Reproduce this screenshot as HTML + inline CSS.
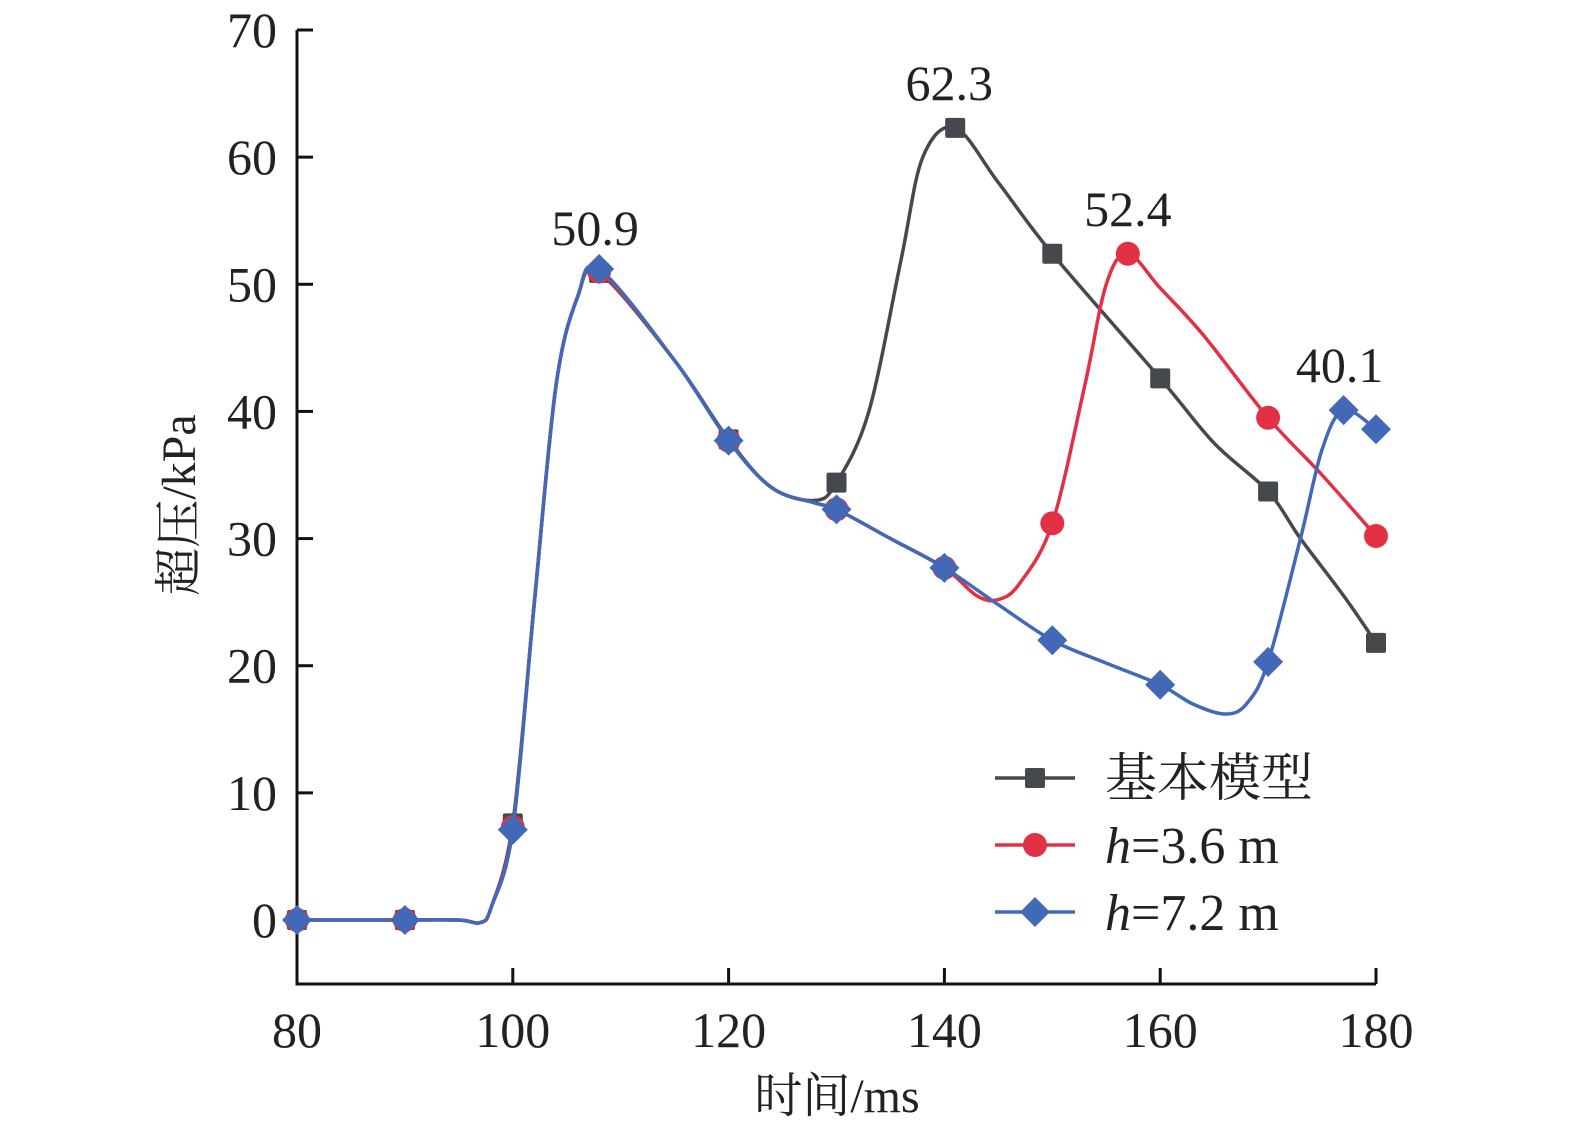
<!DOCTYPE html>
<html><head><meta charset="utf-8"><style>
html,body{margin:0;padding:0;background:#fff;overflow:hidden;width:1575px;height:1135px;}
svg{display:block;font-family:"Liberation Serif","Noto Serif CJK SC",serif;}
</style></head><body>
<svg id="chart" width="1575" height="1135" viewBox="0 0 1575 1135">
<g id="axes"></g>
<g id="series"></g>
<g id="legend"></g>
</svg>
<script>
const xTicks=[80,100,120,140,160,180];
const yTicks=[0,10,20,30,40,50,60,70];
// marker data
const baseX=[80,90,100,108,120,130,141,150,160,170,180];
const baseY=[0,0,7.6,50.9,37.8,34.4,62.3,52.4,42.6,33.7,21.8];
const redX=[80,90,100,108,120,130,140,150,157,170,180];
const redY=[0,0,7.3,51.0,37.7,32.3,27.7,31.2,52.4,39.5,30.2];
const blueX=[80,90,100,108,120,130,140,150,160,170,177,180];
const blueY=[0,0,7.1,51.2,37.7,32.3,27.7,22.0,18.5,20.3,40.1,38.6];
// curve knots
const baseCX=[80,90,95,97,98,100,102,104,106,108,115,120,124,128,130,133,136,138,141,145,150,160,165,170,173,177,180];
const baseCY=[0,0,0,-0.2,1,7.6,25,42,49,50.9,44,37.8,34,33,34.4,40,52,60,62.3,58,52.4,42.6,37.5,33.7,30,25.5,21.8];
const redCX=[80,90,95,97,98,100,102,104,106,108,115,120,124,128,130,135,140,143,145,147,150,153,155,157,160,164,170,175,180];
const redCY=[0,0,0,-0.2,1,7.3,25,42,49,51,44,37.7,34,32.8,32.3,30,27.7,25.5,25.2,26.5,31.2,42,50,52.4,49.7,46,39.5,35,30.2];
const blueCX=[80,90,95,97,98,100,102,104,106,108,115,120,124,128,130,135,140,145,150,155,160,163,166,168,170,173,175,177,180];
const blueCY=[0,0,0,-0.2,1,7.1,25,42,49,51.2,44,37.7,34,32.8,32.3,30,27.7,24.8,22,20.2,18.5,17,16.2,17,20.3,30,37,40.1,38.6];
const labels=[{x:108,y:50.9,t:"50.9",dx:-4},{x:141,y:62.3,t:"62.3",dx:-6},{x:157,y:52.4,t:"52.4",dx:0},{x:177,y:40.1,t:"40.1",dx:-4}];

const NS="http://www.w3.org/2000/svg";
const sx=v=>297+(v-80)*(1376-297)/100;
const sy=v=>920-v*(890/70);
function mk(tag,at,parent){const e=document.createElementNS(NS,tag);for(const k in at)e.setAttribute(k,at[k]);parent.appendChild(e);return e;}
const axes=document.getElementById('axes'),ser=document.getElementById('series'),leg=document.getElementById('legend');

let a=mk('path',{d:`M297,30 V984 H1376`,stroke:'#111',fill:'none','stroke-width':3},axes);


yTicks.forEach(v=>{
 let t=mk('line',{x1:297,x2:313,y1:sy(v),y2:sy(v),stroke:'#111','stroke-width':3},axes);
 
 
 let l=mk('text',{x:277,y:sy(v)+17,'text-anchor':'end','font-size':50,fill:'#222'},axes);l.textContent=v;
 
 
});
xTicks.forEach(v=>{
 let t=mk('line',{x1:sx(v),x2:sx(v),y1:984,y2:968,stroke:'#111','stroke-width':3},axes);
 
 
 let l=mk('text',{x:sx(v),y:1047,'text-anchor':'middle','font-size':50,fill:'#222'},axes);l.textContent=v;
 
 
});
let xt=mk('text',{x:837,y:1112,'text-anchor':'middle','font-size':48,fill:'#222'},axes);xt.textContent="时间/ms";


let yt=mk('text',{x:0,y:0,'text-anchor':'middle','font-size':48,fill:'#222',transform:'translate(195,505) rotate(-90)'},axes);yt.textContent="超压/kPa";



function curve(xs,ys){
 const p=xs.map((x,i)=>[sx(x),sy(ys[i])]);
 let d=`M${p[0][0]},${p[0][1]}`;
 for(let i=0;i<p.length-1;i++){
  const p0=p[i-1]||p[i],p1=p[i],p2=p[i+1],p3=p[i+2]||p2;
  const c1=[p1[0]+(p2[0]-p0[0])/6,p1[1]+(p2[1]-p0[1])/6];
  const c2=[p2[0]-(p3[0]-p1[0])/6,p2[1]-(p3[1]-p1[1])/6];
  d+=` C${c1[0]},${c1[1]} ${c2[0]},${c2[1]} ${p2[0]},${p2[1]}`;
 }
 return d;
}
function marker(type,x,y,col,g){
 let e;
 if(type==='sq') e=mk('rect',{x:x-10,y:y-10,width:20,height:20,rx:2,fill:col},g);
 else if(type==='ci') e=mk('circle',{cx:x,cy:y,r:12,fill:col},g);
 else e=mk('path',{d:`M${x},${y-15} L${x+15},${y} L${x},${y+15} L${x-15},${y}Z`,fill:col},g);
 return e;
}
const series=[
 {n:'base-model',cx:baseCX,cy:baseCY,x:baseX,y:baseY,c:'#45484c',m:'sq'},
 {n:'h-3-6',cx:redCX,cy:redCY,x:redX,y:redY,c:'#e23045',m:'ci'},
 {n:'h-7-2',cx:blueCX,cy:blueCY,x:blueX,y:blueY,c:'#4169b8',m:'di'}
];
series.forEach(s=>{
 const g=mk('g',{},ser);
 
 
 const l=mk('path',{d:curve(s.cx,s.cy),stroke:s.c,fill:'none','stroke-width':3.5},g);
 
 
 s.x.forEach((x,i)=>{
  const m=marker(s.m,sx(x),sy(s.y[i]),s.c,g);
  
  
 });
});
labels.forEach(o=>{
 const t=mk('text',{x:sx(o.x)+o.dx,y:sy(o.y)-28,'text-anchor':'middle','font-size':50,fill:'#222'},ser);
 t.textContent=o.t;
 
 
});
const legTxt=['基本模型','h=3.6 m','h=7.2 m'];
series.forEach((s,i)=>{
 const y=778+i*67;
 const g=mk('g',{},leg);
 
 
 mk('line',{x1:995,x2:1075,y1:y,y2:y,stroke:s.c,'stroke-width':3.5},g);
 marker(s.m,1035,y,s.c,g);
 const t=mk('text',{x:1105,y:y+18,'font-size':52,fill:'#222'},g);
 if(i===0)t.textContent=legTxt[0];
 else{const it=mk('tspan',{'font-style':'italic'},t);it.textContent='h';const r=mk('tspan',{},t);r.textContent=legTxt[i].slice(1);}
});
</script>
</body></html>
